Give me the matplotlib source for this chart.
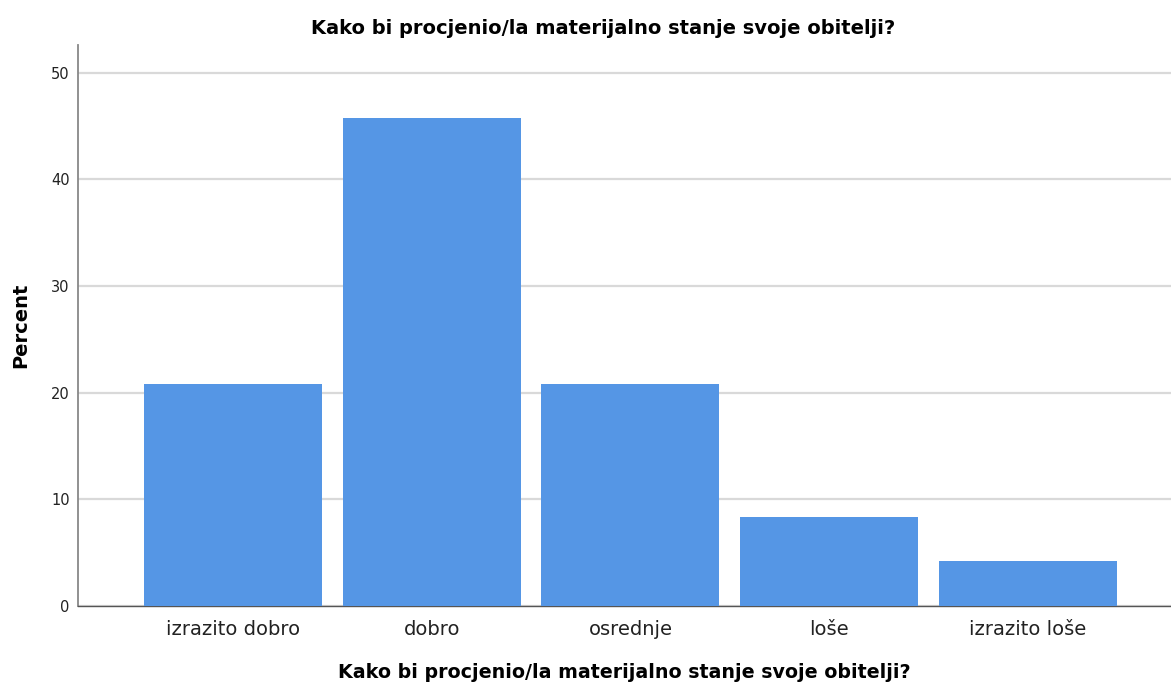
import matplotlib.pyplot as plt

categories = ['izrazito dobro', 'dobro', 'osrednje', 'loše', 'izrazito loše']
percent = [20.8, 45.8, 20.8, 8.3, 4.2]
yticks = [0, 10, 20, 30, 40, 50]

plt.rcParams['font.family'] = ['DejaVu Sans']

fig = plt.figure(figsize=(11.71, 6.86), dpi=100)
ax = fig.add_axes([78 / 1171, 80 / 686, 1 - 78 / 1171, 561 / 686])

x = range(len(categories))
ax.bar(x, percent, width=0.896, color='#5596e5', zorder=3)

ax.set_xlim(-0.78, 4.72)
ax.set_ylim(0, 52.6)
ax.set_yticks(yticks)
ax.set_xticks(list(x))
ax.set_xticklabels(categories, fontsize=14, color='#222222')
ax.tick_params(axis='y', labelsize=10.5, length=0, pad=6, colors='#222222')
ax.tick_params(axis='x', length=0, pad=10)

ax.yaxis.grid(True, color='#d9d9d9', linewidth=1.6, zorder=0)
ax.set_axisbelow(True)
for s in ['top', 'right']:
    ax.spines[s].set_visible(False)
ax.spines['left'].set_color('#888888')
ax.spines['left'].set_linewidth(1.3)
ax.spines['bottom'].set_color('#555555')
ax.spines['bottom'].set_linewidth(1.0)

ax.set_ylabel('Percent', fontsize=14, fontweight='bold', labelpad=15)
ax.set_xlabel('Kako bi procjenio/la materijalno stanje svoje obitelji?', fontsize=13.7, fontweight='bold', labelpad=17)
fig.text(603 / 1171, 1 - 29 / 686, 'Kako bi procjenio/la materijalno stanje svoje obitelji?',
         ha='center', va='center', fontsize=14, fontweight='bold')

fig.savefig('out.png', dpi=100)
